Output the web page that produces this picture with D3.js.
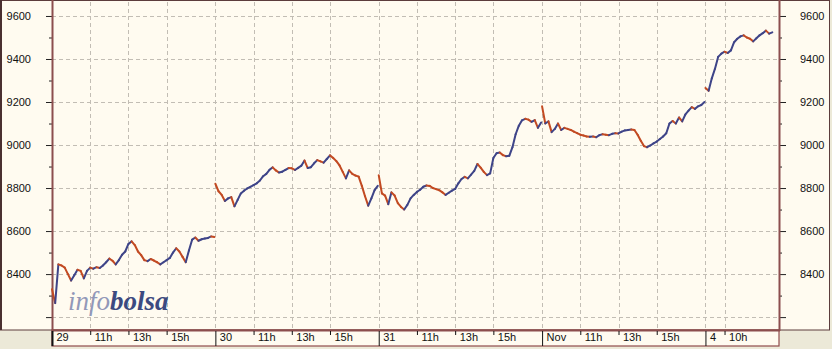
<!DOCTYPE html>
<html>
<head>
<meta charset="utf-8">
<script src="https://cdn.jsdelivr.net/npm/d3@7"></script>
<style>
  body { margin: 0; background: #ece9d8; }
  text { font-family: "Liberation Sans", Arial, sans-serif; }
</style>
</head>
<body>
<svg id="graf"></svg>
<script>
// cotizaciones cada 10 minutos, de 9:00 a 17:30 (ultimo dia incompleto)
var dias = ["29", "30", "31", "Nov", "4"]
var horasDia = ["11h", "13h", "15h"]
var horasUltimo = ["10h"]

var d29 = [8330, 8265, 8445, 8440, 8430, 8400, 8370, 8395, 8420, 8415, 8380, 8415, 8430,
  8425, 8432, 8428, 8440, 8455, 8472, 8462, 8445, 8465, 8490, 8505, 8540, 8552, 8535,
  8505, 8488, 8465, 8460, 8470, 8463, 8455, 8445, 8455, 8465, 8475, 8500, 8520, 8505,
  8480, 8455, 8510, 8560, 8570, 8555, 8562, 8565, 8568, 8575, 8572]
var d30 = [8820, 8785, 8768, 8740, 8752, 8758, 8715, 8745, 8775, 8788, 8798, 8806, 8814,
  8822, 8835, 8855, 8866, 8885, 8896, 8882, 8872, 8876, 8884, 8893, 8892, 8884, 8894,
  8904, 8928, 8893, 8897, 8915, 8930, 8924, 8918, 8935, 8952, 8940, 8925, 8905, 8875,
  8845, 8882, 8866, 8858, 8853, 8810, 8762, 8718, 8752, 8790, 8810]
var d31 = [8860, 8775, 8765, 8725, 8780, 8765, 8730, 8712, 8700, 8722, 8752, 8768, 8782,
  8792, 8806, 8812, 8810, 8800, 8795, 8790, 8780, 8768, 8778, 8788, 8796, 8822, 8842,
  8852, 8845, 8862, 8880, 8912, 8895, 8875, 8860, 8868, 8940, 8962, 8965, 8953, 8948,
  8950, 8990, 9050, 9090, 9115, 9122, 9118, 9108, 9116, 9080, 9105]
var dNov = [9180, 9100, 9110, 9060, 9075, 9100, 9070, 9080, 9075, 9070, 9062, 9055, 9048,
  9044, 9040, 9038, 9040, 9036, 9046, 9050, 9048, 9046, 9052, 9055, 9054, 9062, 9068,
  9070, 9072, 9070, 9048, 9020, 8995, 8990, 8998, 9008, 9016, 9028, 9040, 9055, 9100,
  9112, 9100, 9128, 9110, 9142, 9160, 9176, 9168, 9180, 9186, 9200]
var d4 = [9265, 9252, 9310, 9355, 9410, 9425, 9434, 9428, 9440, 9478, 9494, 9505, 9510,
  9500, 9494, 9482, 9496, 9510, 9520, 9532, 9518, 9524]

var sesiones = [d29, d30, d31, dNov, d4]

var ticksMayor = [8200, 8400, 8600, 8800, 9000, 9200, 9400, 9600]
var ticksMenor = [8300, 8500, 8700, 8900, 9100, 9300, 9500]

var largoDia = 8.55   // horas de 9:00 a ~17:35

var svg = d3.select("#graf").attr("width", 832).attr("height", 349)

var x = d3.scaleLinear().domain([0, 4 * largoDia + 3.85]).range([52, 779])
var y = d3.scaleLinear().domain([8140, 9665]).range([330, 2])

// fondo y marcos
svg.append("rect")
  .attr("x", 0.5).attr("y", 0.5).attr("width", 829).attr("height", 329.5)
  .attr("fill", "#fffbf0").attr("stroke", "#5c3c3c").attr("stroke-width", 1)
svg.append("line")
  .attr("x1", 1).attr("y1", 0).attr("x2", 1).attr("y2", 330)
  .attr("stroke", "#4a3030").attr("stroke-width", 2)

// franja del eje de tiempo
svg.append("rect")
  .attr("x", 52).attr("y", 330).attr("width", 727).attr("height", 16)
  .attr("fill", "#fffbf0").attr("stroke", "#904c4c").attr("stroke-width", 1.2)

// posiciones de las marcas de tiempo
var marcas = []
dias.forEach(function(d, i){
  marcas.push({t: i * largoDia, txt: d, dia: true})
  var hs = i < 4 ? horasDia : horasUltimo
  hs.forEach(function(h){
    marcas.push({t: i * largoDia + (parseInt(h) - 9), txt: h, dia: false})
  })
})

// rejilla
svg.append("g").selectAll("line")
  .data(marcas.filter(function(m){ return m.t > 0 }))
  .enter().append("line")
  .attr("x1", function(m){ return Math.round(x(m.t)) + 0.5 })
  .attr("x2", function(m){ return Math.round(x(m.t)) + 0.5 })
  .attr("y1", 2).attr("y2", 330)
  .attr("stroke", "#c2bdb4").attr("stroke-dasharray", "4,3")
svg.append("g").selectAll("line")
  .data(ticksMayor)
  .enter().append("line")
  .attr("x1", 52).attr("x2", 779)
  .attr("y1", function(d){ return Math.round(y(d)) + 0.5 })
  .attr("y2", function(d){ return Math.round(y(d)) + 0.5 })
  .attr("stroke", "#c2bdb4").attr("stroke-dasharray", "4,3")

// logo
var logo = svg.append("text")
  .attr("x", 68).attr("y", 310)
  .style("font-family", "'Liberation Serif', 'DejaVu Serif', serif")
  .style("font-style", "italic")
  .style("font-size", "27px")
logo.append("tspan").text("info").attr("fill", "#9298b8")
logo.append("tspan").text("bolsa").attr("fill", "#3c4a80").style("font-weight", "bold")

// ejes verticales
function estiloEje(g){
  g.select(".domain").remove()
  g.selectAll("line").attr("stroke", "#222")
  g.selectAll("text").style("font-size", "11px").attr("fill", "#111")
}
var etiqueta = function(d){ return d == 8200 ? "" : d }

svg.append("g").attr("transform", "translate(52,0)")
  .call(d3.axisLeft(y).tickValues(ticksMayor).tickSize(6).tickPadding(15).tickFormat(etiqueta))
  .call(estiloEje)
svg.append("g").attr("transform", "translate(52,0)")
  .call(d3.axisLeft(y).tickValues(ticksMenor).tickSize(3).tickFormat(""))
  .call(estiloEje)
svg.append("g").attr("transform", "translate(779,0)")
  .call(d3.axisRight(y).tickValues(ticksMayor).tickSize(7).tickPadding(14).tickFormat(etiqueta))
  .call(estiloEje)
svg.append("g").attr("transform", "translate(779,0)")
  .call(d3.axisRight(y).tickValues(ticksMenor).tickSize(3).tickFormat(""))
  .call(estiloEje)

svg.append("line").attr("x1", 52.5).attr("x2", 52.5).attr("y1", 0).attr("y2", 331)
  .attr("stroke", "#8c4e4e").attr("stroke-width", 2)
svg.append("line").attr("x1", 779.5).attr("x2", 779.5).attr("y1", 0).attr("y2", 331)
  .attr("stroke", "#8c4e4e").attr("stroke-width", 2)
svg.append("line").attr("x1", 52).attr("x2", 780).attr("y1", 330.5).attr("y2", 330.5)
  .attr("stroke", "#8c4e4e").attr("stroke-width", 2)

// eje de tiempo
var ejeX = svg.append("g").attr("transform", "translate(0,331)")
  .call(d3.axisBottom(x).tickValues(marcas.map(function(m){ return m.t }))
    .tickSize(0).tickFormat(function(t, i){ return marcas[i].txt }))
ejeX.select(".domain").remove()
ejeX.selectAll(".tick").each(function(t, i){
  var g = d3.select(this)
  g.select("text").attr("text-anchor", "start").attr("x", 4).attr("y", 2).attr("dy", "0.71em")
    .style("font-size", "11px").attr("fill", "#111")
  g.select("line").attr("y1", 0).attr("y2", marcas[i].dia ? 15 : 4)
    .attr("stroke", "#111").attr("stroke-width", i == 0 ? 2 : 1)
})

// serie: tramos azules al subir, rojos al bajar
var tramos = []
sesiones.forEach(function(s, d){
  for (var i = 1; i < s.length; i++){
    tramos.push({t0: d * largoDia + (i - 1) / 6, v0: s[i - 1], t1: d * largoDia + i / 6, v1: s[i]})
  }
})
svg.append("g").selectAll("line")
  .data(tramos)
  .enter().append("line")
  .attr("x1", function(p){ return x(p.t0) })
  .attr("y1", function(p){ return y(p.v0) })
  .attr("x2", function(p){ return x(p.t1) })
  .attr("y2", function(p){ return y(p.v1) })
  .attr("stroke", function(p){ return p.v1 >= p.v0 ? "#3e4488" : "#c24a22" })
  .attr("stroke-width", 2)
  .attr("stroke-linecap", "round")
</script>
</body>
</html>
